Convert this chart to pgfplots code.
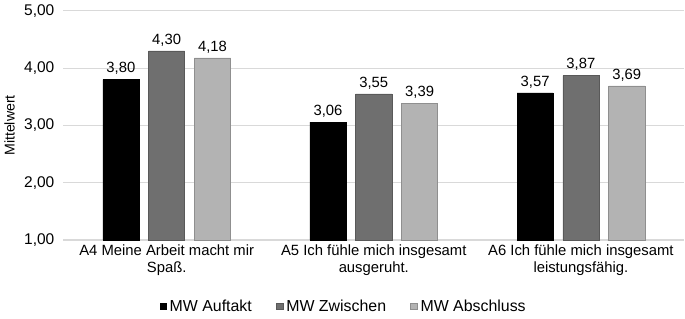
\documentclass[border=0pt]{standalone}
\usepackage{pgfplots}
\pgfplotsset{compat=1.18}
\usepackage{fontspec}
\setmainfont{Liberation Sans}
\definecolor{cA}{HTML}{000000}
\definecolor{cB}{HTML}{6F6F6F}
\definecolor{cC}{HTML}{B3B3B3}
\definecolor{gridc}{HTML}{D9D9D9}
\begin{document}
\begin{tikzpicture}
\begin{axis}[
  scale only axis,
  width=461pt, height=170pt,
  ybar=7.2pt, bar width=26.8pt,
  xmin=-0.5, xmax=2.5,
  ymin=1, ymax=5,
  ytick={1,2,3,4,5},
  xtick={0,1,2},
  xticklabels={{A4 Meine Arbeit macht mir\\Spaß.},{A5 Ich fühle mich insgesamt\\ausgeruht.},{A6 Ich fühle mich insgesamt\\leistungsfähig.}},
  xticklabel style={align=center, font=\fontsize{11}{12.5}\selectfont, text depth=0pt},
  yticklabel style={font=\fontsize{11.5}{13}\selectfont, xshift=-3pt},
  /pgf/number format/assume math mode=true,
  yticklabel={\pgfmathprintnumber[fixed,fixed zerofill,precision=2,use comma]{\tick}},
  xmajorgrids=false, ymajorgrids=true,
  y grid style={color=gridc, line width=0.8pt},
  axis line style={draw=none},
  major tick length=0pt,
  tick style={draw=none},
  ylabel={Mittelwert},
  ylabel style={font=\fontsize{10.5}{12}\selectfont},
  nodes near coords={\pgfmathprintnumber[fixed,fixed zerofill,precision=2,use comma,assume math mode=true]{\pgfplotspointmeta}},
  nodes near coords style={font=\fontsize{11}{13}\selectfont, text=black},
  legend style={at={(0.452,-0.235)}, anchor=north, draw=none, legend columns=3,
    font=\fontsize{11.8}{13}\selectfont, /tikz/every even column/.append style={column sep=16pt}},
  legend image code/.code={\fill[#1] (0cm,-0.09cm) rectangle (0.18cm,0.09cm);},
  clip=false,
]
\addplot[fill=cA, draw=cA] coordinates {(0,3.80) (1,3.06) (2,3.57)};
\addplot[fill=cB, draw=cB!80!black] coordinates {(0,4.30) (1,3.55) (2,3.87)};
\addplot[fill=cC, draw=cC!80!black] coordinates {(0,4.18) (1,3.39) (2,3.69)};
\legend{MW Auftakt, MW Zwischen, MW Abschluss}
\end{axis}
\end{tikzpicture}
\end{document}
